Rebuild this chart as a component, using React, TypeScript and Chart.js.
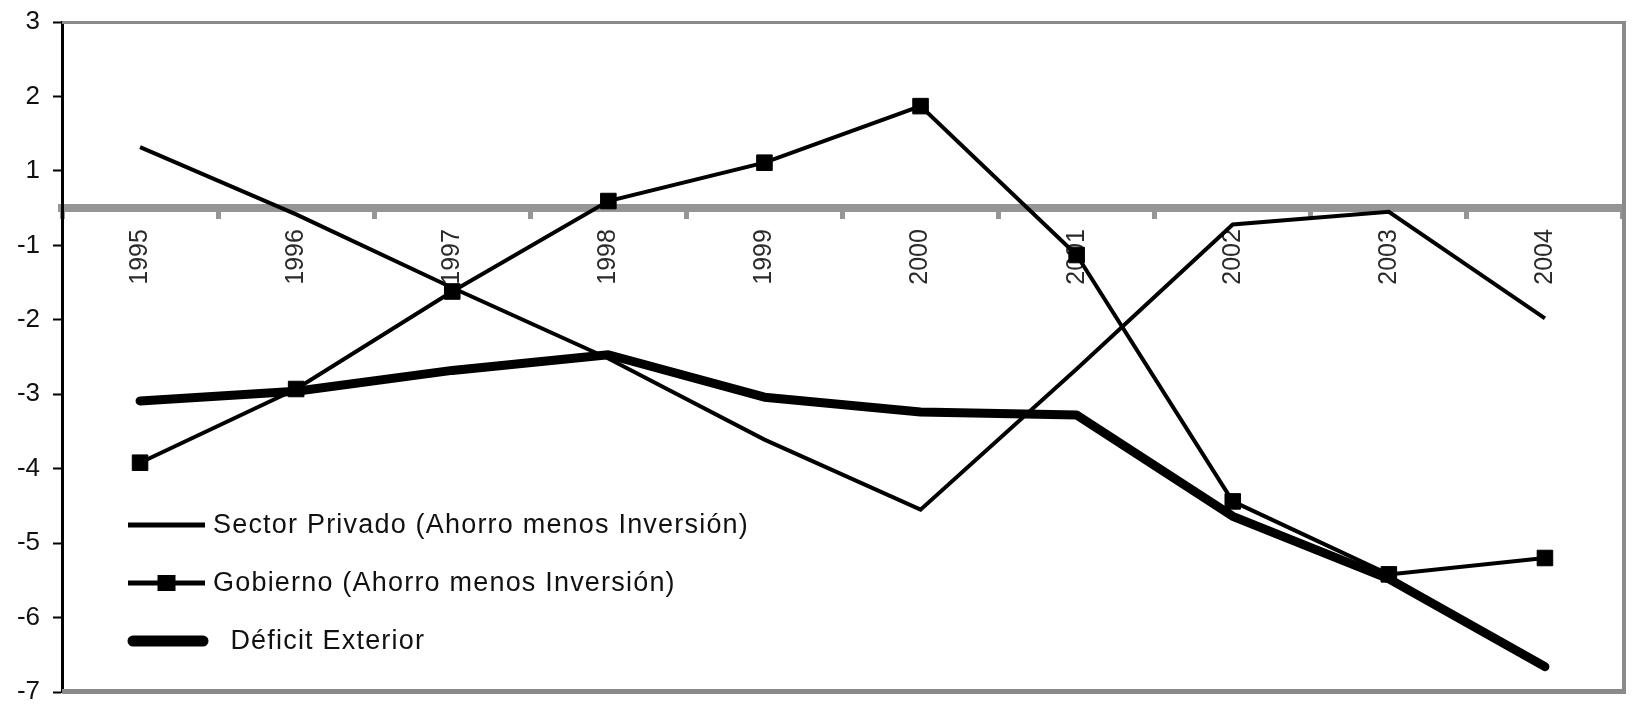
import React, { useEffect, useRef } from 'react';
import { Chart, registerables, LinearScale } from 'chart.js';

// ---------- data ----------
const YEARS = ['1995', '1996', '1997', '1998', '1999', '2000', '2001', '2002', '2003', '2004'];
const SECTOR_PRIVADO = [1.32, -0.17, -1.57, -2.52, -3.61, -4.55, -2.66, -0.44, -0.1, -1.98];
const GOBIERNO = [-3.92, -2.93, -1.62, 0.19, 1.11, 1.87, -1.13, -4.44, -5.42, -5.2];
const DEFICIT_EXTERIOR = [-3.09, -2.96, -2.68, -2.47, -3.04, -3.24, -3.28, -4.64, -5.48, -6.66];
const SERIES_LABELS = [
  'Sector Privado (Ahorro menos Inversión)',
  'Gobierno (Ahorro menos Inversión)',
  '  Déficit Exterior',
];
// the original axis shows no "0" label: 1 and -1 sit one step apart
const Y_TICKS = [3, 2, 1, -1, -2, -3, -4, -5, -6, -7];
const Y_MIN = -7;
const Y_MAX = 3;

// ---------- scale that reproduces the original's compressed 1..-1 band ----------
const toDisplay = (v: number) => (v >= 1 ? v : v <= -1 ? v + 1 : (v + 1) / 2);
const fromDisplay = (d: number) => (d >= 1 ? d : d <= 0 ? d - 1 : 2 * d - 1);

class GapScale extends LinearScale {
  static id = 'gap';
  getPixelForValue(value: any) {
    if (value === null || value === undefined || isNaN(value)) return NaN;
    const d0 = toDisplay(this.min);
    const d1 = toDisplay(this.max);
    return this.getPixelForDecimal((toDisplay(value) - d0) / (d1 - d0));
  }
  getValueForPixel(pixel: number) {
    const d0 = toDisplay(this.min);
    const d1 = toDisplay(this.max);
    return fromDisplay(d0 + this.getDecimalForPixel(pixel) * (d1 - d0));
  }
}

Chart.register(...registerables);
Chart.register(GapScale as any);

const FONT = '"Liberation Sans", Arial, Helvetica, sans-serif';
const AXIS_GRAY = '#959595';
const FRAME_GRAY = '#8a8a8a';

const framePlugin = {
  id: 'frame',
  beforeDatasetsDraw(chart: any) {
    const { ctx, chartArea: a } = chart;
    ctx.save();
    ctx.strokeStyle = FRAME_GRAY;
    ctx.lineCap = 'butt';
    ctx.lineWidth = 3;
    ctx.beginPath();
    ctx.moveTo(a.left, a.top + 0.5);
    ctx.lineTo(a.right + 2, a.top + 0.5);
    ctx.stroke();
    ctx.lineWidth = 4;
    ctx.beginPath();
    ctx.moveTo(a.right + 1, a.top - 1);
    ctx.lineTo(a.right + 1, a.bottom + 2);
    ctx.stroke();
    ctx.lineWidth = 5;
    ctx.beginPath();
    ctx.moveTo(a.left, a.bottom - 0.5);
    ctx.lineTo(a.right + 3, a.bottom - 0.5);
    ctx.stroke();
    ctx.restore();
  },
};

const legendPlugin = {
  id: 'insideLegend',
  afterDatasetsDraw(chart: any) {
    const { ctx, chartArea: a } = chart;
    ctx.save();
    const rowYs = [a.bottom - 167, a.bottom - 109, a.bottom - 51];
    const x0 = a.left + 66;
    const x1 = a.left + 143;
    chart.data.datasets.forEach((ds: any, i: number) => {
      const y = rowYs[i];
      ctx.strokeStyle = '#000';
      ctx.fillStyle = '#000';
      if (ds.borderWidth > 6) {
        ctx.lineWidth = 11;
        ctx.lineCap = 'round';
        ctx.beginPath();
        ctx.moveTo(x0 + 5, y);
        ctx.lineTo(x1 - 2, y);
        ctx.stroke();
      } else {
        ctx.lineWidth = 5;
        ctx.lineCap = 'butt';
        ctx.beginPath();
        ctx.moveTo(x0, y);
        ctx.lineTo(x1, y);
        ctx.stroke();
        if (ds.pointRadius > 0) {
          const cx = (x0 + x1) / 2;
          ctx.fillRect(cx - 9, y - 8, 18, 16);
        }
      }
      ctx.font = `27px ${FONT}`;
      (ctx as any).letterSpacing = '1.2px';
      ctx.fillStyle = '#111';
      ctx.textAlign = 'left';
      ctx.textBaseline = 'alphabetic';
      ctx.fillText(ds.label, a.left + 151, y + 8);
    });
    ctx.restore();
  },
};

export default function App() {
  const ref = useRef<HTMLCanvasElement | null>(null);

  useEffect(() => {
    if (!ref.current) return;
    const chart = new Chart(ref.current, {
      type: 'line',
      data: {
        labels: YEARS,
        datasets: [
          {
            label: SERIES_LABELS[0],
            data: SECTOR_PRIVADO,
            borderColor: '#000',
            borderWidth: 4,
            pointRadius: 0,
            order: 1,
          },
          {
            label: SERIES_LABELS[1],
            data: GOBIERNO,
            borderColor: '#000',
            borderWidth: 4,
            pointStyle: 'rect',
            pointRadius: 11,
            pointBackgroundColor: '#000',
            pointBorderColor: '#000',
            pointBorderWidth: 1,
            order: 0,
          },
          {
            label: SERIES_LABELS[2],
            data: DEFICIT_EXTERIOR,
            borderColor: '#000',
            borderWidth: 9,
            borderJoinStyle: 'round',
            borderCapStyle: 'round',
            pointRadius: 0,
            order: 2,
          },
        ] as any,
      },
      options: {
        animation: false,
        responsive: false,
        events: [],
        layout: { padding: { top: 22, right: 4, bottom: 8, left: 0 } },
        plugins: {
          legend: { display: false },
          tooltip: { enabled: false },
        },
        scales: {
          x: {
            type: 'category',
            position: { y: 0 } as any,
            offset: true,
            grid: {
              offset: true,
              drawOnChartArea: false,
              drawTicks: true,
              tickLength: 7,
              tickWidth: 5,
              tickColor: AXIS_GRAY,
            },
            border: { display: true, color: AXIS_GRAY, width: 8 },
            ticks: {
              autoSkip: false,
              minRotation: 90,
              maxRotation: 90,
              padding: 14,
              color: '#2a2a2a',
              font: { family: FONT, size: 25 },
            },
            afterFit: (s: any) => {
              s.paddingLeft = 0;
              s.paddingRight = 0;
            },
          },
          y: {
            type: 'gap' as any,
            min: Y_MIN,
            max: Y_MAX,
            grid: {
              drawOnChartArea: false,
              drawTicks: true,
              tickLength: 9,
              tickWidth: 2,
              tickColor: '#000',
            },
            border: { display: true, color: '#000', width: 3 },
            ticks: {
              padding: 13,
              color: '#111',
              font: { family: FONT, size: 26 },
              callback: (v: any) => String(v),
            },
            afterBuildTicks: (s: any) => {
              s.ticks = Y_TICKS.map((value) => ({ value }));
            },
            afterFit: (s: any) => {
              s.width = 62;
              s.paddingTop = 0;
              s.paddingBottom = 0;
            },
          } as any,
        },
      },
      plugins: [framePlugin, legendPlugin],
    });
    return () => chart.destroy();
  }, []);

  return (
    <div style={{ position: 'fixed', left: 0, top: 0, width: 1635, height: 704, background: '#fff' }}>
      <canvas ref={ref} width={1635} height={704} style={{ width: 1635, height: 704, display: 'block' }} />
    </div>
  );
}
